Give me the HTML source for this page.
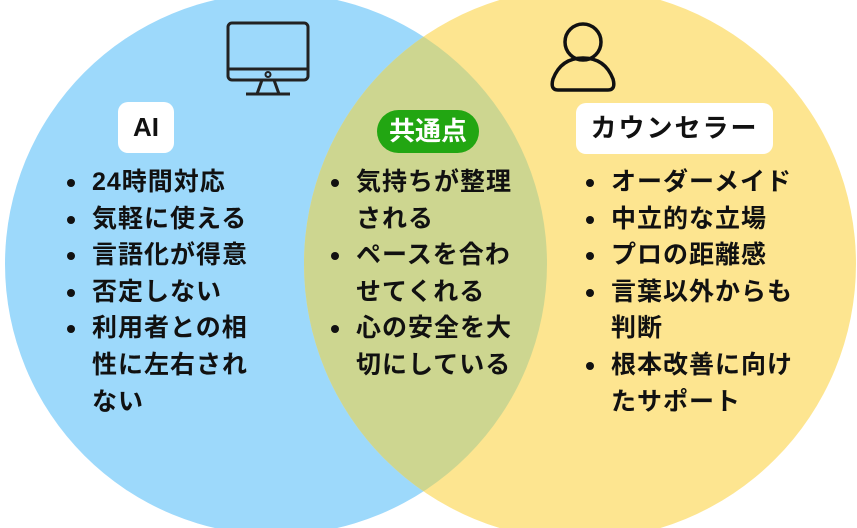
<!DOCTYPE html>
<html><head><meta charset="utf-8">
<style>
html,body{margin:0;padding:0;background:#fff;}
body{width:857px;height:528px;position:relative;overflow:hidden;font-family:"Liberation Sans","Noto Sans CJK JP",sans-serif;}
svg{position:absolute;left:0;top:0;}
.lbl{position:absolute;background:#fff;border-radius:10px;font-weight:bold;font-size:26px;color:#111;text-align:center;line-height:51px;height:51px;}
ul{position:absolute;margin:0;padding:0;list-style:none;font-weight:bold;font-size:25px;letter-spacing:1px;line-height:36.6px;color:#111;}
li{position:relative;padding-left:0;}
li::before{content:"";position:absolute;left:-25px;top:15px;width:8px;height:8px;border-radius:50%;background:#111;}
</style></head><body>
<svg width="857" height="528" viewBox="0 0 857 528">
<defs><clipPath id="cl"><circle cx="276" cy="264" r="271"/></clipPath></defs>
<circle cx="276" cy="264" r="271" fill="#9dd9fb"/>
<circle cx="580" cy="264" r="276" fill="#fde590"/>
<circle cx="580" cy="264" r="276" fill="#cdd690" clip-path="url(#cl)"/>
<g fill="none" stroke="#222" stroke-width="3" stroke-linejoin="round">
<rect x="228" y="23" width="80" height="57" rx="4"/>
<line x1="228" y1="69" x2="308" y2="69"/>
<circle cx="268" cy="74.5" r="2.5" stroke-width="2"/>
<path d="M262 80 L257 94 M274 80 L279 94"/>
<line x1="246" y1="94" x2="290" y2="94"/>
</g>
<g fill="none" stroke="#111" stroke-width="3.5" stroke-linejoin="round">
<circle cx="583" cy="42" r="18"/>
<path d="M558 90 Q550 90 553 79 Q561 58 583 58 Q605 58 613 79 Q616 90 608 90 Z"/>
</g>
</svg>
<div class="lbl" style="left:118px;top:102px;width:56px;">AI</div>
<div class="lbl" style="left:377px;top:110px;width:102px;height:43px;line-height:43px;border-radius:22px;background:#22a612;color:#fff;">共通点</div>
<div class="lbl" style="left:576px;top:103px;width:197px;letter-spacing:2px;">カウンセラー</div>
<ul style="left:92px;top:164px;width:170px;">
<li>24時間対応</li><li>気軽に使える</li><li>言語化が得意</li><li>否定しない</li><li>利用者との相性に左右されない</li>
</ul>
<ul style="left:356px;top:164px;width:165px;">
<li>気持ちが整理される</li><li>ペースを合わせてくれる</li><li>心の安全を大切にしている</li>
</ul>
<ul style="left:611px;top:164px;width:190px;">
<li>オーダーメイド</li><li>中立的な立場</li><li>プロの距離感</li><li>言葉以外からも判断</li><li>根本改善に向けたサポート</li>
</ul>
</body></html>
